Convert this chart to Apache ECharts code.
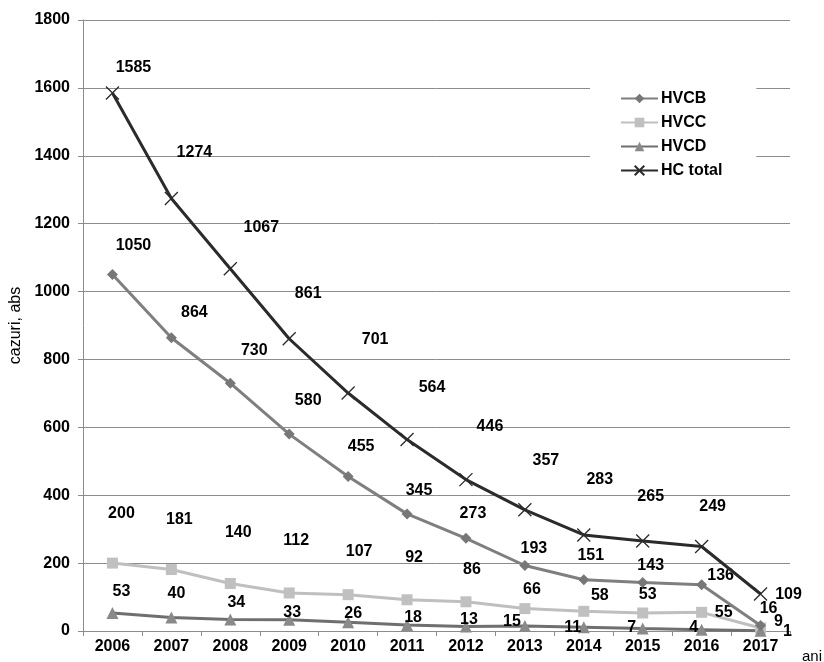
<!DOCTYPE html>
<html><head><meta charset="utf-8">
<script src="https://cdn.jsdelivr.net/npm/echarts@6/dist/echarts.min.js"></script>
<style>html,body{margin:0;padding:0;background:#fff}#c{width:824px;height:662px}</style>
</head><body><div id="c"></div>
<script>
const years = ['2006','2007','2008','2009','2010','2011','2012','2013','2014','2015','2016','2017'];
const hvcb = [1050,864,730,580,455,345,273,193,151,143,136,16];
const hvcc = [200,181,140,112,107,92,86,66,58,53,55,9];
const hvcd = [53,40,34,33,26,18,13,15,11,7,4,1];
const hcTotal = [1585,1274,1067,861,701,564,446,357,283,265,249,109];

// label offsets (px) relative to each point — styling only
const offTotal = [[21,-25],[23,-46],[31,-41],[19,-45],[27,-53],[25,-52],[24,-53],[21,-49],[16,-55],[8,-44],[11,-40],[28,1]];
const offB = [[21,-29],[23,-25],[24,-33],[19,-34],[13,-30],[12,-23],[7,-25],[9,-17],[7,-24],[8,-17],[19,-9],[8,-17]];
const offC = [[9,-50],[8,-50],[8,-51],[7,-52],[11,-43],[7,-42],[6,-32],[7,-19],[16,-16],[5,-18],[22,0],[18,-6]];
const offD = [[9,-21],[5,-24],[6,-17],[3,-7],[5,-9],[6,-7],[3,-7],[-13,-4],[-11,0],[-11,-1],[-8,-2],[27,1]];

function mk(vals, offs){
  return vals.map((v,i)=>({value:v, label:{offset:offs[i]}}));
}
const FF = 'Liberation Sans, Arial, sans-serif';
const lbl = {show:true, position:'inside', color:'#000', fontWeight:'bold', fontSize:16, fontFamily:FF};

const chart = echarts.init(document.getElementById('c'), null, {renderer:'canvas'});
chart.setOption({
  animation:false,
  backgroundColor:'#fff',
  textStyle:{fontFamily:FF},
  grid:{left:83, right:34, top:20, bottom:31, containLabel:false, outerBoundsMode:'none'},
  legend:{
    orient:'vertical', left:590, top:86,
    backgroundColor:'#fff', padding:[4,34,6,30],
    itemWidth:37, itemHeight:12, itemGap:7,
    textStyle:{fontWeight:'bold', fontSize:16, color:'#000', padding:[0,0,0,-2], lineHeight:17},
    data:['HVCB','HVCC','HVCD','HC total']
  },
  xAxis:{
    type:'category', data:years, boundaryGap:true,
    name:'ani', nameLocation:'end', nameGap:12,
    nameTextStyle:{fontSize:15, color:'#000', verticalAlign:'top', padding:[18,0,0,0]},
    axisLine:{lineStyle:{color:'#8c8c8c'}},
    axisTick:{show:true, length:5, lineStyle:{color:'#8c8c8c'}},
    axisLabel:{color:'#000', fontWeight:'bold', fontSize:16, margin:8}
  },
  yAxis:{
    type:'value', min:0, max:1800, interval:200,
    name:'cazuri, abs', nameLocation:'middle', nameGap:53, nameRotate:90,
    nameTextStyle:{fontSize:16, color:'#000'},
    axisLine:{show:true, lineStyle:{color:'#8c8c8c'}},
    axisTick:{show:true, length:5, lineStyle:{color:'#8c8c8c'}},
    axisLabel:{color:'#000', fontWeight:'bold', fontSize:16, margin:13, formatter:(v)=>String(v)},
    splitLine:{lineStyle:{color:'#8c8c8c'}}
  },
  series:[
    {name:'HVCB', type:'line', data:mk(hvcb,offB), symbol:'diamond', symbolSize:11,
     lineStyle:{color:'#7f7f7f', width:3}, itemStyle:{color:'#777777'}, label:lbl, z:3},
    {name:'HVCC', type:'line', data:mk(hvcc,offC), symbol:'rect', symbolSize:11,
     lineStyle:{color:'#bfbfbf', width:3}, itemStyle:{color:'#c0c0c0'}, label:lbl, z:2},
    {name:'HVCD', type:'line', data:mk(hvcd,offD), symbol:'triangle', symbolSize:12,
     lineStyle:{color:'#6f6f6f', width:3}, itemStyle:{color:'#8a8a8a'}, label:lbl, z:2},
    {name:'HC total', type:'line', data:mk(hcTotal,offTotal), symbol:'path://M0,0L10,10M10,0L0,10', symbolSize:13,
     lineStyle:{color:'#2b2b2b', width:3}, itemStyle:{color:'none', borderColor:'#2b2b2b', borderWidth:1.3}, label:lbl, z:4}
  ]
});
</script></body></html>
